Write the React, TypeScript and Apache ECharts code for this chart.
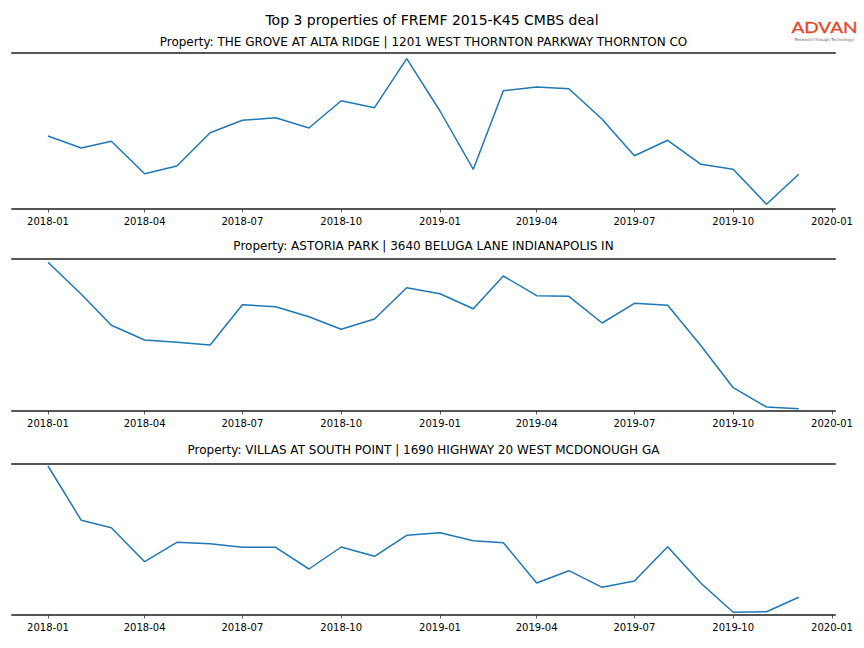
import React, { useEffect, useRef } from "react";
import * as echarts from "echarts";

const months = [
  "2018-01", "2018-02", "2018-03", "2018-04", "2018-05", "2018-06",
  "2018-07", "2018-08", "2018-09", "2018-10", "2018-11", "2018-12",
  "2019-01", "2019-02", "2019-03", "2019-04", "2019-05", "2019-06",
  "2019-07", "2019-08", "2019-09", "2019-10", "2019-11", "2019-12",
];

const tickLabels = [
  "2018-01", "2018-04", "2018-07", "2018-10",
  "2019-01", "2019-04", "2019-07", "2019-10", "2020-01",
];

const mainTitle = "Top 3 properties of FREMF 2015-K45 CMBS deal";

const panelTitles = [
  "Property: THE GROVE AT ALTA RIDGE | 1201 WEST THORNTON PARKWAY THORNTON CO",
  "Property: ASTORIA PARK | 3640 BELUGA LANE INDIANAPOLIS IN",
  "Property: VILLAS AT SOUTH POINT | 1690 HIGHWAY 20 WEST MCDONOUGH GA",
];

// relative activity index (no y scale shown in the reference)
const groveValues = [
  73, 61, 67.7, 35.3, 43, 76.3, 88.7, 91.3, 81, 108.3, 101.3, 150.3,
  98, 39.7, 118.3, 122, 120.3, 89.7, 53.3, 68.7, 44.7, 39.7, 4.7, 34.7,
];
const astoriaValues = [
  148.7, 116.7, 85.7, 71, 68.7, 66, 106.3, 104.3, 94.3, 81.7, 92, 123.3,
  117.3, 102.3, 135, 115.3, 114.7, 88, 107.7, 105.7, 65.3, 23.3, 4, 2.3,
];
const villasValues = [
  149, 94.7, 87.3, 53.3, 72.7, 71.3, 67.7, 67.7, 46, 68, 58.7, 79.7,
  82.3, 74.3, 72.3, 32, 44.3, 27.7, 34, 68.3, 31.7, 2.7, 3.3, 17.7,
];

const yMax = [156, 152, 151];

const toTs = (ym: string) => {
  const [y, m] = ym.split("-").map(Number);
  return new Date(y, m - 1, 1).getTime();
};

export default function App() {
  const ref = useRef<HTMLDivElement>(null);

  useEffect(() => {
    if (!ref.current) return;
    const chart = echarts.init(ref.current, undefined, { renderer: "svg" });
    const font = "DejaVu Sans";
    const xMin = new Date(2017, 10, 28, 12).getTime();
    const xMax = new Date(2020, 0, 3, 19).getTime();
    const tickTs = tickLabels.map(toTs);
    const fmt = (v: number) => {
      const d = new Date(v);
      const m = d.getMonth() + 1;
      return `${d.getFullYear()}-${m < 10 ? "0" + m : m}`;
    };
    const grids = [
      { left: 12, right: 29, top: 53, height: 156 },
      { left: 12, right: 29, top: 259, height: 152 },
      { left: 12, right: 29, top: 464, height: 151 },
    ];
    const allValues = [groveValues, astoriaValues, villasValues];
    const xAxis: any[] = [];
    const yAxis: any[] = [];
    const series: any[] = [];
    grids.forEach((_, i) => {
      xAxis.push({
        type: "value",
        gridIndex: i,
        min: xMin,
        max: xMax,
        position: "bottom",
        axisLine: { show: true, lineStyle: { color: "#555", width: 2 } },
        axisTick: {
          show: true,
          customValues: tickTs,
          length: 3.5,
          lineStyle: { color: "#333", width: 0.8 },
        },
        axisLabel: {
          show: true,
          customValues: tickTs,
          formatter: fmt,
          fontSize: 10,
          color: "#000",
          fontFamily: font,
          margin: 7,
          showMinLabel: true,
          showMaxLabel: true,
        },
        splitLine: { show: false },
      });
      xAxis.push({
        type: "value",
        gridIndex: i,
        min: xMin,
        max: xMax,
        position: "top",
        axisLine: { show: true, lineStyle: { color: "#555", width: 2 } },
        axisTick: { show: false },
        axisLabel: { show: false },
        splitLine: { show: false },
      });
      yAxis.push({
        type: "value",
        gridIndex: i,
        min: 0,
        max: yMax[i],
        show: false,
        splitLine: { show: false },
      });
      series.push({
        type: "line",
        xAxisIndex: i * 2,
        yAxisIndex: i,
        data: months.map((m, k) => [toTs(m), allValues[i][k]]),
        showSymbol: false,
        symbol: "none",
        lineStyle: { color: "#1f77b4", width: 1.5 },
        silent: true,
      });
    });

    const titleY = [42, 246, 450];
    const graphic: any[] = [
      {
        type: "text",
        x: 432,
        y: 19.5,
        style: {
          text: mainTitle,
          fontSize: 14,
          fontFamily: font,
          fill: "#000",
          textAlign: "center",
          textVerticalAlign: "middle",
        },
      },
      ...panelTitles.map((t, i) => ({
        type: "text",
        x: 423.5,
        y: titleY[i],
        style: {
          text: t,
          fontSize: 12,
          fontFamily: font,
          fill: "#000",
          textAlign: "center",
          textVerticalAlign: "middle",
        },
      })),
      {
        type: "text",
        x: 824.5,
        y: 26.8,
        scaleY: 0.82,
        style: {
          text: "ADVAN",
          fontSize: 19,
          lineHeight: 17,
          fontFamily: "Lato",
          fill: "#e2492a",
          stroke: "#e2492a",
          lineWidth: 0.4,
          textAlign: "center",
          textVerticalAlign: "middle",
        },
      },
      {
        type: "text",
        x: 824,
        y: 39,
        style: {
          text: "Research through Technology",
          fontSize: 4,
          lineHeight: 4,
          fontFamily: font,
          fill: "#666",
          textAlign: "center",
          textVerticalAlign: "middle",
        },
      },
    ];

    chart.setOption({
      animation: false,
      backgroundColor: "#fff",
      grid: grids,
      xAxis,
      yAxis,
      series,
      graphic,
    });
    return () => chart.dispose();
  }, []);

  return (
    <div
      ref={ref}
      style={{ position: "fixed", left: 0, top: 0, width: 864, height: 648 }}
    />
  );
}
